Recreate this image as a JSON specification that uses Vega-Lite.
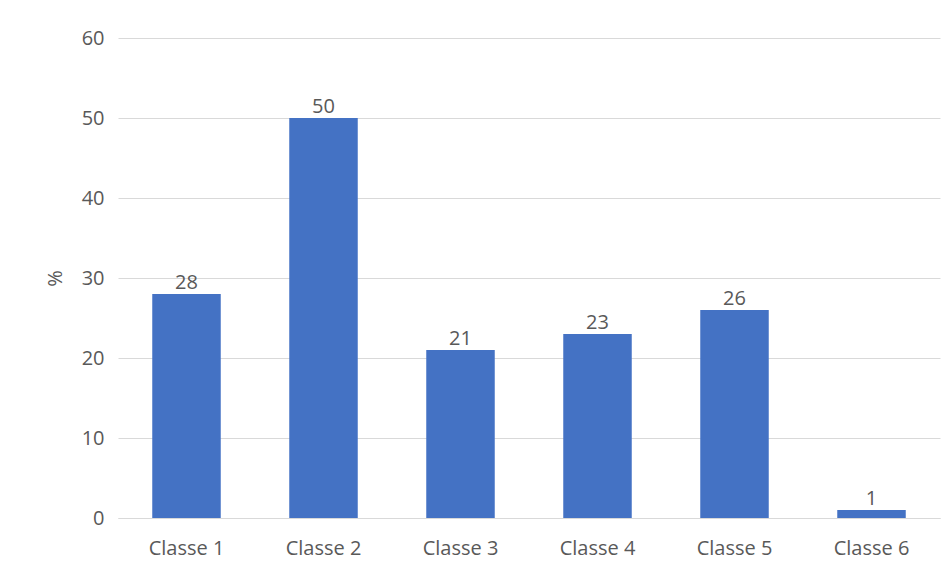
{
  "$schema": "https://vega.github.io/schema/vega-lite/v6.json",
  "width": 822,
  "height": 480,
  "autosize": "none",
  "padding": {"left": 118, "top": 38, "right": 11, "bottom": 60},
  "background": "#ffffff",
  "config": {
    "view": {"stroke": null},
    "font": "Open Sans",
    "axis": {
      "labelFont": "Open Sans",
      "titleFont": "Open Sans",
      "labelColor": "#595959",
      "titleColor": "#595959",
      "labelFontSize": 20,
      "titleFontSize": 20,
      "titleFontWeight": "normal",
      "gridColor": "#d9d9d9",
      "domainColor": "#d9d9d9"
    }
  },
  "data": {
    "values": [
      {"classe": "Classe 1", "pct": 28},
      {"classe": "Classe 2", "pct": 50},
      {"classe": "Classe 3", "pct": 21},
      {"classe": "Classe 4", "pct": 23},
      {"classe": "Classe 5", "pct": 26},
      {"classe": "Classe 6", "pct": 1}
    ]
  },
  "encoding": {
    "x": {
      "field": "classe",
      "type": "nominal",
      "sort": null,
      "scale": {"paddingInner": 0.5, "paddingOuter": 0.25},
      "axis": {
        "title": null,
        "labelAngle": 0,
        "ticks": false,
        "labelPadding": 20,
        "domainWidth": 1
      }
    },
    "y": {
      "field": "pct",
      "type": "quantitative",
      "scale": {"domain": [0, 60]},
      "axis": {
        "title": "%",
        "values": [0, 10, 20, 30, 40, 50, 60],
        "domain": false,
        "ticks": false,
        "labelPadding": 14,
        "titlePadding": 16
      }
    }
  },
  "layer": [
    {"mark": {"type": "bar", "color": "#4472c4"}},
    {
      "mark": {
        "type": "text",
        "baseline": "alphabetic",
        "dy": -5,
        "fontSize": 20,
        "color": "#595959",
        "font": "Open Sans"
      },
      "encoding": {"text": {"field": "pct", "type": "quantitative"}}
    }
  ]
}
